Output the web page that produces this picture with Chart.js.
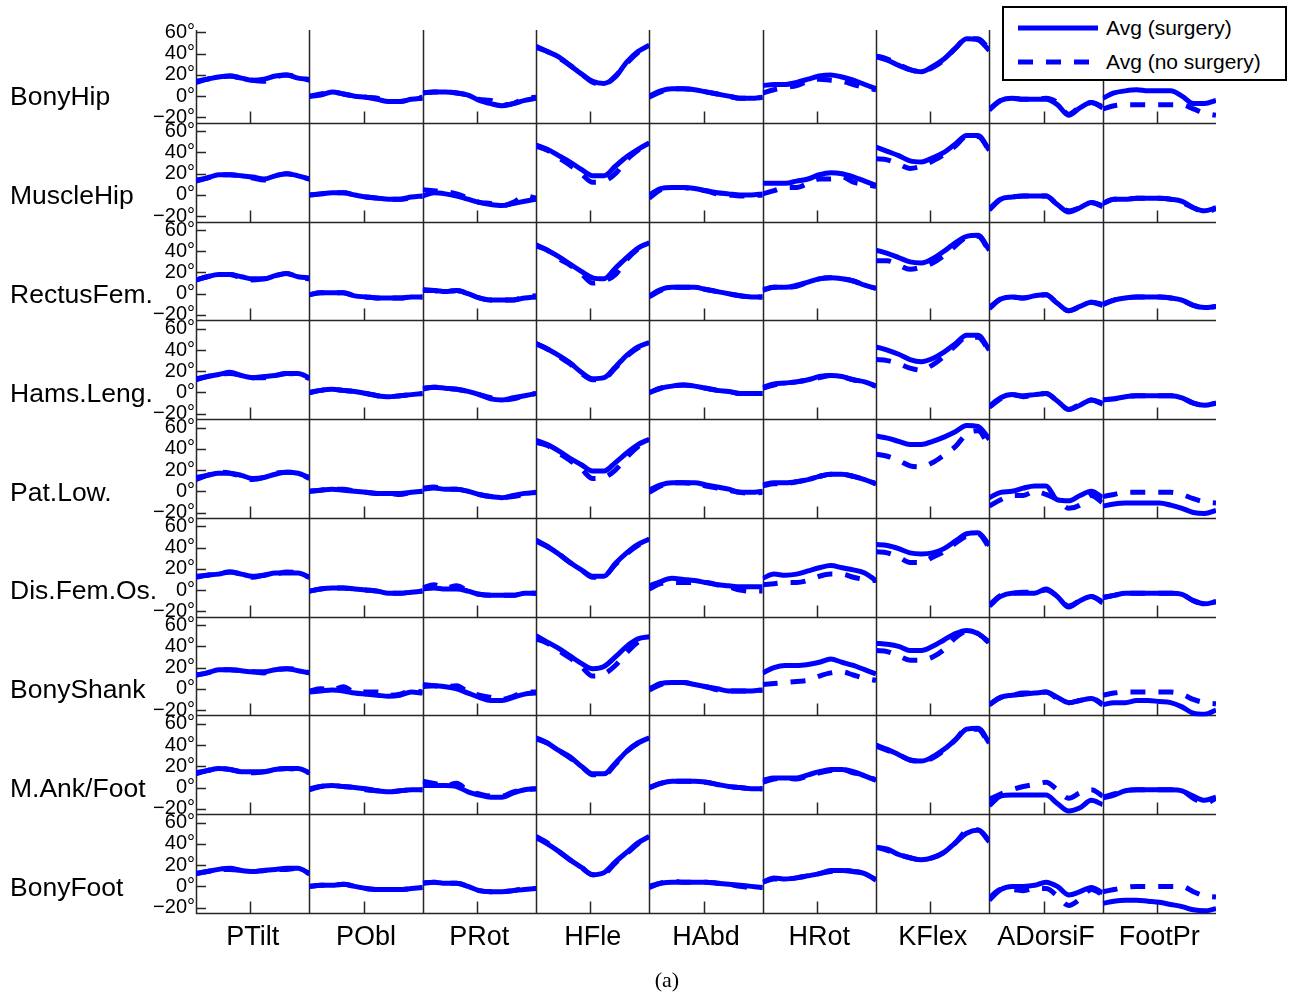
<!DOCTYPE html>
<html>
<head>
<meta charset="utf-8">
<script src="https://cdn.jsdelivr.net/npm/chart.js@4/dist/chart.umd.min.js"></script>
<style>
html,body{margin:0;padding:0;background:#fff;}
#wrap{position:relative;width:1295px;height:996px;overflow:hidden;}
#c{position:absolute;left:0;top:0;}
#legend{position:absolute;left:1002px;top:6px;width:281px;height:71px;border:2px solid #000;background:#fff;
  font-family:'Liberation Sans',Arial,Helvetica,sans-serif;font-size:21px;color:#000;z-index:2;}
#legend svg{position:absolute;left:14px;top:0;}
#legend .t{position:absolute;left:102px;height:26px;line-height:26px;white-space:nowrap;}
#cap{position:absolute;left:617px;top:967px;width:100px;text-align:center;font-family:'Liberation Serif','DejaVu Serif',serif;font-size:22px;line-height:26px;color:#000;}
</style>
</head>
<body>
<div id="wrap">
  <canvas id="c" width="1295" height="996"></canvas>
  <div id="legend">
    <svg width="82" height="71">
      <line x1="0" y1="20" x2="80" y2="20" stroke="#0000ff" stroke-width="5"/>
      <line x1="0" y1="54" x2="80" y2="54" stroke="#0000ff" stroke-width="5" stroke-dasharray="15 13"/>
    </svg>
    <div class="t" style="top:7px">Avg (surgery)</div>
    <div class="t" style="top:41px">Avg (no surgery)</div>
  </div>
  <div id="cap">(a)</div>
</div>
<script>
const rowNames = ['BonyHip','MuscleHip','RectusFem.','Hams.Leng.','Pat.Low.','Dis.Fem.Os.','BonyShank','M.Ank/Foot','BonyFoot'];
const colNames = ['PTilt','PObl','PRot','HFle','HAbd','HRot','KFlex','ADorsiF','FootPr'];
const pct = [0,10,20,30,40,50,60,70,80,90,100];
const yTickValues = [60,40,20,0,-20];
const xTickAt = 48;

// ---- PTilt ----
const surgPTilt = [
  [14,16,18,19,17,15,16,19,20,17,16],
  [14,16,19,19,18,17,15,18,20,18,15],
  [13,16,18,18,16,14,14,17,19,16,15],
  [13,15,17,19,16,14,15,16,18,18,14],
  [13,15,17,17,15,12,13,16,18,17,13],
  [13,14,15,17,15,13,14,16,16,16,12],
  [13,15,18,18,17,16,16,18,19,17,15],
  [14,16,18,17,15,15,15,17,18,18,14],
  [12,14,16,17,15,14,15,16,17,17,12]
];
const noSurgPTilt = [
  [13,16,18,19,17,15,14,18,20,18,15],
  [13,16,19,19,18,16,14,18,20,18,15],
  [13,16,18,18,15,13,14,17,19,16,14],
  [12,15,17,18,16,14,14,16,18,17,13],
  [11,15,18,17,14,11,13,17,18,17,12],
  [12,14,16,17,15,12,14,15,17,16,12],
  [13,15,18,18,17,16,15,18,19,18,15],
  [13,16,18,17,15,14,15,17,18,17,14],
  [12,14,16,16,15,14,15,16,16,17,12]
];
// ---- PObl ----
const surgPObl = [
  [0,1,4,2,0,-1,-3,-5,-5,-3,-2],
  [0,1,2,2,0,-2,-3,-4,-4,-2,-1],
  [-1,1,1,1,-2,-3,-4,-4,-4,-3,-3],
  [0,2,3,2,1,-1,-3,-4,-3,-2,-1],
  [0,1,2,1,0,-1,-2,-2,-2,-1,0],
  [-1,1,2,2,1,0,-1,-3,-3,-2,-1],
  [-3,-2,-1,-2,-4,-5,-6,-7,-6,-3,-4],
  [-1,1,2,1,0,-1,-3,-4,-3,-2,-2],
  [0,1,1,2,0,-2,-3,-3,-3,-2,-1]
];
const noSurgPObl = [
  [0,2,4,2,0,-1,-2,-5,-5,-3,-1],
  [0,1,2,2,0,-2,-3,-4,-4,-3,-1],
  [-1,1,1,1,-2,-3,-4,-4,-4,-3,-3],
  [0,2,3,2,1,-1,-3,-4,-3,-2,-1],
  [0,1,2,2,0,-1,-2,-2,-3,-1,0],
  [-1,1,2,2,1,0,-1,-3,-3,-2,-1],
  [-2,0,-1,2,-3,-3,-3,-6,-5,-2,-3],
  [-2,1,2,1,0,-2,-3,-4,-3,-2,-2],
  [0,1,1,2,0,-2,-3,-3,-3,-2,-1]
];
// ---- PRot ----
const surgPRot = [
  [3,4,4,3,1,-4,-7,-9,-7,-4,-2],
  [-1,2,1,-1,-4,-7,-9,-10,-8,-6,-4],
  [3,3,2,3,0,-4,-6,-6,-6,-4,-3],
  [4,5,4,3,1,-2,-6,-7,-5,-3,-1],
  [2,3,2,2,0,-3,-5,-6,-4,-2,-1],
  [1,2,1,1,-1,-4,-5,-5,-5,-3,-3],
  [2,3,2,0,-4,-8,-11,-11,-8,-5,-4],
  [2,2,2,1,-4,-7,-9,-9,-5,-2,-1],
  [3,4,3,3,0,-4,-5,-5,-4,-3,-2]
];
const noSurgPRot = [
  [3,4,4,3,1,-3,-4,-8,-7,-2,-1],
  [5,4,3,1,-3,-7,-8,-10,-7,-1,-3],
  [4,3,2,3,0,-4,-6,-6,-6,-3,-2],
  [3,5,4,3,1,-2,-5,-7,-6,-3,-1],
  [3,4,2,2,0,-3,-5,-6,-5,-3,-1],
  [2,5,2,4,-1,-4,-5,-5,-5,-3,-3],
  [4,3,2,3,-3,-6,-8,-10,-7,-3,-3],
  [6,4,2,4,-3,-6,-8,-8,-4,-2,-1],
  [3,4,3,3,0,-4,-5,-5,-4,-2,-2]
];
// ---- HFle ----
const surgHFle = [
  [46,42,37,29,21,14,12,18,32,42,48],
  [47,43,37,31,24,18,18,27,36,43,49],
  [46,41,35,28,21,15,14,24,34,43,48],
  [46,41,35,28,19,13,14,24,35,43,47],
  [48,44,38,31,25,19,19,27,36,44,49],
  [47,41,34,26,19,13,13,25,35,43,48],
  [50,44,38,31,24,19,21,30,40,47,49],
  [47,42,35,29,20,13,13,23,34,42,47],
  [46,40,33,25,18,11,13,23,32,41,47]
];
const noSurgHFle = [
  [47,42,36,29,21,13,11,19,31,41,48],
  [46,42,35,28,20,12,13,20,33,42,49],
  [45,41,33,27,19,10,12,18,32,42,48],
  [46,41,34,27,18,12,13,23,34,42,47],
  [46,43,36,29,21,12,13,20,32,42,48],
  [46,41,34,26,19,12,13,24,34,42,47],
  [47,43,36,29,21,12,14,22,34,44,48],
  [46,42,35,28,20,12,12,22,34,42,47],
  [47,41,33,25,18,11,12,22,31,40,48]
];
// ---- HAbd ----
const surgHAbd = [
  [0,5,7,7,6,4,2,0,-2,-2,-1],
  [0,6,7,7,6,4,2,1,0,0,1],
  [-2,4,6,6,6,4,2,0,-2,-3,-3],
  [0,4,6,7,6,4,2,1,-1,-1,-1],
  [1,6,8,8,8,6,4,2,-1,-1,0],
  [4,8,11,10,9,7,5,4,3,3,3],
  [0,5,6,6,4,2,0,-2,-2,-2,-1],
  [0,4,6,6,6,5,3,1,0,-1,-1],
  [0,3,4,4,4,4,3,2,1,0,-1]
];
const noSurgHAbd = [
  [-1,4,7,7,6,4,2,0,-2,-2,-1],
  [-3,5,7,7,5,4,1,0,-1,-1,0],
  [-3,3,6,6,6,4,2,0,-2,-3,-3],
  [0,4,6,7,6,4,2,1,-1,-1,-1],
  [-1,5,8,8,7,5,3,1,-1,-2,-1],
  [1,6,7,7,7,7,5,3,0,-1,-1],
  [-1,4,6,6,4,2,-1,-2,-2,-2,-1],
  [0,4,6,6,6,5,3,1,0,-1,-1],
  [-1,3,5,4,4,4,3,2,0,-1,-1]
];
// ---- HRot ----
const surgHRot = [
  [10,11,11,13,16,19,20,18,15,11,7],
  [11,11,11,13,15,19,21,20,17,13,9],
  [4,6,6,8,11,14,15,14,12,8,5],
  [5,8,9,10,12,15,16,15,12,10,6],
  [6,8,8,9,11,14,16,16,14,11,7],
  [11,15,14,15,18,21,23,21,19,16,9],
  [15,20,22,22,23,25,28,25,22,18,14],
  [7,9,9,9,12,15,17,17,15,11,7],
  [4,8,7,8,10,12,15,15,14,12,6]
];
const noSurgHRot = [
  [3,6,8,10,14,16,15,14,11,8,6],
  [1,4,7,7,11,15,15,17,12,10,8],
  [3,6,6,7,11,14,15,14,12,8,5],
  [4,7,9,10,12,14,16,15,12,10,6],
  [5,7,7,9,11,14,16,16,14,11,7],
  [5,6,7,7,9,13,15,15,12,10,9],
  [4,5,6,7,8,12,15,16,13,10,8],
  [5,8,9,8,11,14,16,17,14,12,7],
  [4,7,7,8,10,12,14,15,14,12,6]
];
// ---- KFlex ----
const surgKFlex = [
  [37,34,29,25,23,28,35,45,54,53,43],
  [45,41,37,32,31,35,40,48,56,56,42],
  [41,38,34,30,29,33,40,48,54,55,41],
  [43,40,36,31,29,32,38,46,54,54,40],
  [52,50,47,44,44,47,51,56,62,61,49],
  [43,42,39,35,34,35,39,46,53,54,42],
  [43,42,40,36,36,40,46,52,55,52,44],
  [40,36,31,26,25,29,36,45,55,56,42],
  [37,35,30,27,25,27,32,41,50,53,42]
];
const noSurgKFlex = [
  [38,35,30,25,23,27,34,45,54,54,44],
  [34,33,29,25,27,32,38,46,55,55,42],
  [31,31,27,23,25,29,36,45,53,54,40],
  [31,30,27,23,21,26,34,44,52,52,39],
  [35,33,29,24,23,27,34,42,54,57,42],
  [36,35,31,26,26,31,36,44,51,53,40],
  [36,35,31,27,27,30,37,48,54,52,43],
  [39,35,31,26,25,28,35,45,55,55,40],
  [37,34,30,27,25,27,32,41,52,53,43]
];
// ---- ADorsiF ----
const surgADorsiF = [
  [-12,-4,-2,-3,-3,-3,-8,-18,-11,-6,-11],
  [-14,-4,-2,-1,-1,-1,-9,-16,-12,-7,-11],
  [-13,-5,-3,-4,-2,-1,-9,-16,-12,-8,-11],
  [-13,-5,-2,-3,-2,-1,-8,-16,-12,-7,-10],
  [-6,-1,0,3,5,5,-8,-9,-4,0,-6],
  [-15,-6,-3,-3,-3,1,-6,-16,-10,-6,-12],
  [-15,-8,-6,-5,-4,-3,-8,-13,-11,-9,-15],
  [-17,-8,-7,-7,-7,-7,-15,-22,-19,-12,-16],
  [-13,-3,0,0,1,4,0,-8,-5,-1,-6]
];
const noSurgADorsiF = [
  [-13,-4,-2,-3,-3,-2,-6,-17,-10,-6,-10],
  [-13,-4,-2,-1,-1,-1,-9,-15,-12,-7,-10],
  [-14,-5,-3,-4,-2,-1,-9,-16,-12,-8,-10],
  [-14,-6,-2,-4,-2,-1,-8,-16,-11,-7,-11],
  [-14,-8,-4,-4,0,-3,-8,-16,-13,-4,-11],
  [-14,-5,-3,-2,-2,0,-6,-15,-10,-6,-11],
  [-15,-8,-6,-4,-4,-3,-9,-13,-11,-9,-14],
  [-11,-6,-2,1,3,5,-2,-10,-5,-2,-8],
  [-11,-3,-3,-4,-2,-2,-9,-18,-12,-3,-8]
];
// ---- FootPr ----
const surgFootPr = [
  [-2,3,5,6,5,5,5,0,-7,-7,-4],
  [-8,-4,-4,-3,-3,-3,-4,-6,-12,-15,-12],
  [-10,-6,-4,-3,-3,-3,-4,-6,-11,-13,-12],
  [-7,-6,-4,-3,-3,-3,-3,-5,-10,-12,-10],
  [-14,-12,-11,-11,-11,-11,-13,-16,-20,-21,-18],
  [-7,-5,-3,-3,-3,-3,-3,-4,-10,-13,-11],
  [-15,-13,-13,-11,-11,-12,-13,-17,-23,-24,-20],
  [-10,-7,-3,-2,-2,-2,-2,-3,-8,-12,-9],
  [-16,-14,-13,-13,-14,-15,-17,-19,-22,-23,-21]
];
const noSurgFootPr = [
  [-12,-9,-8,-8,-8,-8,-8,-8,-12,-16,-18],
  [-8,-4,-4,-3,-3,-3,-4,-7,-12,-16,-13],
  [-10,-6,-4,-3,-3,-3,-4,-6,-11,-13,-12],
  [-7,-6,-4,-3,-3,-3,-3,-5,-10,-12,-10],
  [-5,-3,-1,-1,-1,-1,-1,-3,-7,-10,-11],
  [-7,-5,-3,-3,-3,-3,-3,-4,-10,-13,-11],
  [-6,-4,-3,-3,-3,-3,-3,-5,-10,-13,-14],
  [-9,-6,-3,-2,-2,-2,-2,-3,-10,-15,-10],
  [-5,-3,-1,0,0,0,0,0,-5,-9,-10]
];

const surgery = [surgPTilt, surgPObl, surgPRot, surgHFle, surgHAbd, surgHRot, surgKFlex, surgADorsiF, surgFootPr];
const noSurgery = [noSurgPTilt, noSurgPObl, noSurgPRot, noSurgHFle, noSurgHAbd, noSurgHRot, noSurgKFlex, noSurgADorsiF, noSurgFootPr];

const FONT = "'Liberation Sans', Arial, Helvetica, sans-serif";
Chart.defaults.font.family = FONT;
Chart.defaults.color = '#000';

const BLUE = '#0000ff';
const scales = {};
rowNames.forEach((name, r) => {
  scales['y' + r] = {
    type: 'linear', position: 'left', stack: 'rows', stackWeight: 1, weight: rowNames.length - r,
    min: -26, max: 67,
    afterBuildTicks: s => { s.ticks = yTickValues.map(v => ({value: v})); },
    afterFit: s => { s.width = 46; },
    grid: {display: false, drawTicks: false},
    border: {display: false},
    ticks: {autoSkip: false, padding: 1, color: '#000', font: {size: 20},
      callback: v => (v < 0 ? '\u2212' + Math.abs(v) : String(v)) + '\u00b0'}
  };
});
colNames.forEach((name, c) => {
  scales['x' + c] = {
    type: 'linear', position: 'bottom', stack: 'cols', stackWeight: 1, weight: c,
    min: 0, max: 100,
    afterFit: s => { s.height = 48; },
    grid: {display: false, drawTicks: false},
    border: {display: false},
    ticks: {display: false},
    title: {display: true, text: name, color: '#000', font: {size: 27}, padding: {top: 0, bottom: 8}}
  };
});

const datasets = [];
rowNames.forEach((rn, r) => {
  colNames.forEach((cn, c) => {
    datasets.push({
      label: 'Avg (no surgery)',
      data: pct.map((x, i) => ({x: x, y: noSurgery[c][r][i]})),
      xAxisID: 'x' + c, yAxisID: 'y' + r,
      borderColor: BLUE, borderWidth: 5, borderDash: [15, 13],
      pointRadius: 0, fill: false, cubicInterpolationMode: 'monotone'
    });
    datasets.push({
      label: 'Avg (surgery)',
      data: pct.map((x, i) => ({x: x, y: surgery[c][r][i]})),
      xAxisID: 'x' + c, yAxisID: 'y' + r,
      borderColor: BLUE, borderWidth: 5,
      pointRadius: 0, fill: false, cubicInterpolationMode: 'monotone'
    });
  });
});

const framePlugin = {
  id: 'frame',
  beforeDatasetsDraw(chart) {
    const {ctx, chartArea: a, scales: s} = chart;
    ctx.save();
    ctx.strokeStyle = '#262626';
    ctx.lineWidth = 1.5;
    ctx.beginPath();
    colNames.forEach((_, c) => {
      const x = Math.round(s['x' + c].left) + 0.5;
      ctx.moveTo(x, a.top + 5); ctx.lineTo(x, a.bottom);
    });
    rowNames.forEach((_, r) => {
      const ys = s['y' + r];
      const yb = Math.round(ys.bottom) - 0.5;
      ctx.moveTo(a.left, yb); ctx.lineTo(a.right, yb);
      yTickValues.forEach(v => {
        const y = Math.round(ys.getPixelForValue(v)) + 0.5;
        ctx.moveTo(a.left, y); ctx.lineTo(a.left + 10, y);
      });
      colNames.forEach((_, c) => {
        const x = Math.round(s['x' + c].getPixelForValue(xTickAt)) + 0.5;
        ctx.moveTo(x, yb); ctx.lineTo(x, yb - 12);
      });
    });
    ctx.stroke();
    ctx.fillStyle = '#000';
    ctx.font = '26.5px ' + FONT;
    ctx.textBaseline = 'middle';
    ctx.textAlign = 'left';
    rowNames.forEach((n, r) => ctx.fillText(n, 10, s['y' + r].getPixelForValue(0) + 2));
    ctx.restore();
  }
};

new Chart(document.getElementById('c'), {
  type: 'line',
  data: {datasets},
  options: {
    responsive: false,
    animation: false,
    layout: {padding: {left: 150, right: 79, top: 25, bottom: 34}},
    plugins: {legend: {display: false}, tooltip: {enabled: false}},
    scales
  },
  plugins: [framePlugin]
});
</script>
</body>
</html>
